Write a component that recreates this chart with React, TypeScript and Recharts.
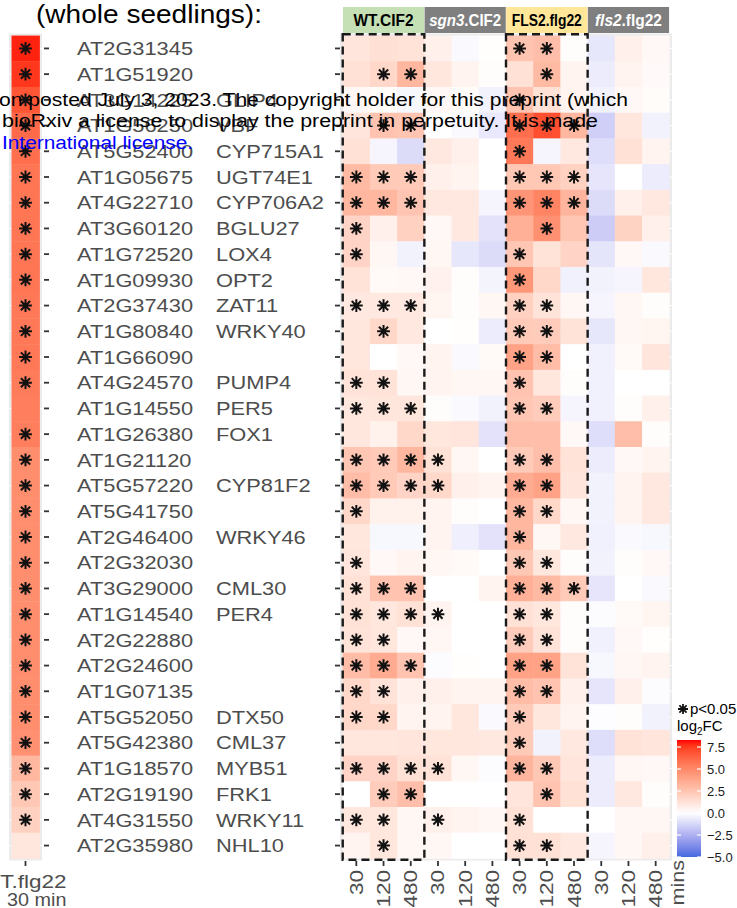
import { CartesianGrid, Scatter, ScatterChart, XAxis, YAxis } from "recharts"

const GENE_IDS = [
  "AT2G31345", "AT1G51920", "AT3G14225", "AT1G56250", "AT5G52400", "AT1G05675", "AT4G22710", "AT3G60120",
  "AT1G72520", "AT1G09930", "AT2G37430", "AT1G80840", "AT1G66090", "AT4G24570", "AT1G14550", "AT1G26380",
  "AT1G21120", "AT5G57220", "AT5G41750", "AT2G46400", "AT2G32030", "AT3G29000", "AT1G14540", "AT2G22880",
  "AT2G24600", "AT1G07135", "AT5G52050", "AT5G42380", "AT1G18570", "AT2G19190", "AT4G31550", "AT2G35980",
]
const GENE_NAMES = [
  "", "", "GLIP4", "VBF", "CYP715A1", "UGT74E1", "CYP706A2", "BGLU27",
  "LOX4", "OPT2", "ZAT11", "WRKY40", "", "PUMP4", "PER5", "FOX1",
  "", "CYP81F2", "", "WRKY46", "", "CML30", "PER4", "",
  "", "", "DTX50", "CML37", "MYB51", "FRK1", "WRKY11", "NHL10",
]
const TIMEPOINTS = ["30", "120", "480"]
const GROUP_LABELS = ["WT.CIF2", "sgn3.CIF2", "FLS2.flg22", "fls2.flg22"]
const BOXED_GROUPS = [0, 2]
const LEFT_LABEL = ["WT.flg22", "30 min"]

// reference column: WT.flg22 30 min
const WT_FLG22_30MIN = [
  8.0, 7.6, 6.8, 6.1, 6.0, 5.7, 5.7, 5.7, 5.7, 5.7, 5.6, 5.6, 5.6, 5.5, 5.4, 5.4,
  4.8, 4.8, 4.8, 4.8, 4.8, 4.8, 4.8, 4.8, 4.8, 4.8, 4.8, 4.7, 3.1, 2.4, 2.0, 1.05,
]
const WT_FLG22_SIG = [1, 1, 1, 1, 1, 1, 1, 1, 1, 1, 1, 1, 1, 1, 0, 1, 1, 1, 1, 1, 1, 1, 1, 1, 1, 1, 1, 1, 1, 1, 1, 0]

// log2FC at 30 / 120 / 480 min, one row per gene
const WT_CIF2 = [
  [1.15, 1.35, 1.25], [1.3, 1.7, 3.1], [0.3, 0.15, -0.25], [1.15, 2.6, 2.5],
  [1.3, -0.3, -1.1], [3.0, 2.3, 2.3], [3.1, 3.1, 2.5], [1.85, 0.65, 2.0],
  [1.85, 0.35, -0.4], [1.2, 0.25, 0.3], [1.0, 1.0, 1.0], [1.05, 1.7, 1.0],
  [1.05, 0.0, 0.3], [1.2, 1.2, 0.35], [1.05, 1.1, 1.1], [1.05, 0.6, 1.7],
  [2.45, 2.3, 3.1], [2.9, 2.3, 1.85], [1.7, 0.6, 0.6], [1.05, -0.25, -0.25],
  [1.15, 0.3, 0.5], [1.3, 2.6, 2.6], [1.3, 1.05, 1.3], [1.2, 1.05, 0.3],
  [2.9, 3.6, 2.6], [1.7, 1.2, 0.65], [1.7, 1.7, 0.5], [1.05, 1.05, 1.15],
  [1.85, 1.85, 1.3], [0.0, 2.2, 2.8], [1.05, 1.05, 0.35], [0.5, 1.05, 0.35],
]
const SGN3_CIF2 = [
  [0.65, -0.15, 0.05], [1.05, 0.5, 0.1], [0.3, 0.15, -0.4], [0.0, -0.15, -0.7],
  [1.0, 0.65, 0.0], [0.65, 0.5, 0.0], [1.0, 1.0, -0.3], [0.3, 1.0, -0.9],
  [0.35, -0.75, -1.1], [0.55, 0.1, -0.35], [0.45, 0.1, 0.35], [0.0, 0.05, -0.6],
  [0.5, -0.2, 0.25], [0.5, 0.35, 0.35], [0.1, -0.2, -0.4], [1.05, 1.15, -0.9],
  [1.3, 0.35, 0.0], [1.7, 0.65, 0.5], [0.5, 0.1, 0.0], [0.5, -0.5, -0.9],
  [0.35, 0.25, 0.0], [0.0, 0.0, 0.5], [0.5, 0.0, 0.0], [0.35, 0.0, 0.0],
  [-0.1, 0.05, 0.0], [0.65, 0.5, 0.5], [0.5, 1.05, -0.2], [1.05, 1.05, 1.0],
  [1.2, 0.35, -0.1], [0.0, 0.0, 0.0], [0.65, 0.5, 0.35], [0.35, 0.0, 0.0],
]
const FLS2_FLG22 = [
  [2.55, 2.8, 0.1], [1.3, 3.0, 0.5], [2.6, 1.3, 0.5], [6.0, 7.0, 3.1],
  [5.6, -0.3, 1.0], [2.4, 2.4, 2.0], [4.5, 5.2, 3.2], [3.4, 4.7, 2.45],
  [2.45, 1.25, 1.85], [4.45, 1.7, -0.45], [2.0, 1.2, 0.35], [2.3, 2.2, 1.2],
  [4.0, 2.9, 0.0], [2.6, 1.05, 0.1], [2.45, 2.2, -0.3], [2.8, 2.8, 0.3],
  [2.3, 2.8, 1.2], [3.6, 4.0, 1.15], [3.1, 1.7, 0.35], [3.1, 0.35, 1.0],
  [2.4, 1.05, 0.1], [3.4, 3.0, 2.3], [1.3, 1.05, 0.1], [2.2, 1.2, 0.1],
  [4.0, 4.0, 1.2], [2.9, 2.6, 0.65], [2.3, 1.05, 0.5], [2.3, -0.4, 1.0],
  [3.2, 2.4, 1.15], [1.15, 2.6, 1.3], [1.3, 0.0, 0.0], [1.3, 1.3, 1.0],
]
const FLS2_MUT_FLG22 = [
  [-0.75, 0.65, 0.3], [-0.6, 0.5, 0.2], [-0.4, 0.3, 0.15], [-1.5, 1.05, -0.4],
  [-1.05, 1.3, 0.5], [-0.8, 0.0, -0.6], [-1.1, 0.65, 1.0], [-1.6, 1.9, 0.65],
  [-0.85, 0.3, -0.2], [-0.4, -0.3, 1.05], [-0.3, 0.35, 0.1], [-0.75, 0.35, 0.4],
  [-0.45, 0.25, 1.15], [-0.45, 0.0, 0.0], [-0.45, 0.1, 0.65], [-1.05, 2.8, 0.1],
  [-0.6, 0.3, 0.5], [-0.4, 0.5, 1.0], [-0.4, 0.5, 1.0], [-0.45, -0.2, -0.25],
  [-0.4, 0.1, 0.3], [-0.8, 0.0, -0.2], [-0.1, 0.25, 0.4], [-0.45, 0.3, 0.05],
  [-0.25, 0.35, 0.5], [-0.8, 0.65, -0.1], [-0.05, 0.1, -0.4], [-1.05, 1.2, 1.15],
  [-0.6, 0.35, 0.3], [-0.6, 1.0, 0.1], [0.0, 0.35, 0.35], [-0.3, 0.35, 0.65],
]
// p<0.05 columns (0-11) per gene
const SIG_COLUMNS = [
  [6, 7], [1, 2, 7], [6], [1, 2, 6, 7, 8], [6], [0, 1, 2, 6, 7, 8], [0, 1, 2, 6, 7, 8], [0, 7],
  [0, 6], [6], [0, 1, 2, 6, 7], [1, 6, 7], [6, 7], [0, 1, 6], [0, 1, 2, 6, 7], [],
  [0, 1, 2, 3, 6, 7], [0, 1, 2, 3, 6, 7], [0, 6, 7], [6], [0, 6, 7], [0, 1, 2, 6, 7, 8], [0, 1, 2, 3, 6, 7], [0, 1, 6, 7],
  [0, 1, 2, 6, 7], [0, 1, 6, 7], [0, 1, 6], [6], [0, 1, 2, 3, 6, 7], [1, 2, 7], [0, 1, 3, 6], [1, 6, 7],
]
const LEGEND_BREAKS = [7.5, 5, 2.5, 0, -2.5, -5]

// ---- colour scale (white mid, Lab interpolation like ggplot) ----
const SCALE_MIN = -5
const SCALE_MAX = 8.3
const toLin = (c: number) => { c /= 255; return c <= 0.04045 ? c / 12.92 : ((c + 0.055) / 1.055) ** 2.4 }
const fromLin = (c: number) => {
  const v = c <= 0.0031308 ? 12.92 * c : 1.055 * c ** (1 / 2.4) - 0.055
  return Math.round(Math.max(0, Math.min(1, v)) * 255)
}
function rgbToLab(r: number, g: number, b: number) {
  const R = toLin(r), G = toLin(g), B = toLin(b)
  const X = (0.4124 * R + 0.3576 * G + 0.1805 * B) / 0.95047
  const Y = 0.2126 * R + 0.7152 * G + 0.0722 * B
  const Z = (0.0193 * R + 0.1192 * G + 0.9505 * B) / 1.08883
  const f = (t: number) => (t > 0.008856 ? Math.cbrt(t) : 7.787 * t + 16 / 116)
  return [116 * f(Y) - 16, 500 * (f(X) - f(Y)), 200 * (f(Y) - f(Z))]
}
function labToRgb(L: number, a: number, b: number) {
  const fy = (L + 16) / 116, fx = fy + a / 500, fz = fy - b / 200
  const inv = (t: number) => (t ** 3 > 0.008856 ? t ** 3 : (t - 16 / 116) / 7.787)
  const X = 0.95047 * inv(fx), Y = inv(fy), Z = 1.08883 * inv(fz)
  const r = fromLin(3.2406 * X - 1.5372 * Y - 0.4986 * Z)
  const g = fromLin(-0.9689 * X + 1.8758 * Y + 0.0415 * Z)
  const bb = fromLin(0.0557 * X - 0.204 * Y + 1.057 * Z)
  return `rgb(${r},${g},${bb})`
}
const WHITE = rgbToLab(255, 255, 255)
const HIGH = rgbToLab(255, 0, 0)
const LOW = rgbToLab(65, 105, 225)
function fillFor(v: number) {
  const end = v >= 0 ? HIGH : LOW
  const f = v >= 0 ? Math.min(v / SCALE_MAX, 1) : Math.min(v / SCALE_MIN, 1)
  return labToRgb(
    WHITE[0] + (end[0] - WHITE[0]) * f,
    WHITE[1] + (end[1] - WHITE[1]) * f,
    WHITE[2] + (end[2] - WHITE[2]) * f,
  )
}

// ---- layout ----
const FONT = "'Liberation Sans', Arial, sans-serif"
const PLOT_TOP = 33
const PLOT_BOTTOM = 861
const Y_DOMAIN: [number, number] = [-0.6, 31.6]
const ROW_H = (PLOT_BOTTOM - PLOT_TOP) / (Y_DOMAIN[1] - Y_DOMAIN[0])
const RIGHT_X_DOMAIN: [number, number] = [-0.6, 11.6]
const COL_W = 332 / (RIGHT_X_DOMAIN[1] - RIGHT_X_DOMAIN[0])
const LEFT_X_DOMAIN: [number, number] = [-0.59, 0.59]
const LEFT_W = 33 / (LEFT_X_DOMAIN[1] - LEFT_X_DOMAIN[0])
const STRIPS = [
  { fill: "#c5e0b4", color: "#000", width: 60 },
  { fill: "#7f7f7f", color: "#fff", width: 72 },
  { fill: "#ffe699", color: "#000", width: 70 },
  { fill: "#7f7f7f", color: "#fff", width: 67 },
]

const ROW_TICKS = GENE_IDS.map((_, i) => i)
const COL_TICKS = GROUP_LABELS.flatMap((_, g) => TIMEPOINTS.map((_, t) => g * 3 + t))
const STRIP_TICKS = GROUP_LABELS.map((_, g) => g * 3 + 1)

const leftCells = WT_FLG22_30MIN.map((v, r) => ({ x: 0, y: r, v, sig: WT_FLG22_SIG[r] === 1 }))
const rightCells = GENE_IDS.flatMap((_, r) =>
  [WT_CIF2, SGN3_CIF2, FLS2_FLG22, FLS2_MUT_FLG22].flatMap((grp, g) =>
    grp[r].map((v, t) => ({ x: g * 3 + t, y: r, v, sig: SIG_COLUMNS[r].includes(g * 3 + t) })),
  ),
)
// one point per outlined group, at the centre of its block
const boxPoints = BOXED_GROUPS.map((g) => ({ x: g * 3 + 1, y: (GENE_IDS.length - 1) / 2 }))

function Star({ cx, cy, r = 6.4, w = 2 }: { cx: number; cy: number; r?: number; w?: number }) {
  const d = r * 0.72
  return (
    <path
      d={`M${cx - r},${cy}H${cx + r}M${cx},${cy - r}V${cy + r}M${cx - d},${cy - d}L${cx + d},${cy + d}M${cx - d},${cy + d}L${cx + d},${cy - d}`}
      stroke="#111"
      strokeWidth={w}
      fill="none"
    />
  )
}

const cellShape = (w: number) => (props: any) => {
  const { cx, cy, payload } = props
  return (
    <g>
      <rect x={cx - w / 2} y={cy - ROW_H / 2} width={w + 0.4} height={ROW_H + 0.4} fill={fillFor(payload.v)} />
      {payload.sig && <Star cx={cx} cy={cy} />}
    </g>
  )
}

const boxShape = (props: any) => {
  const { cx, cy } = props
  const w = 3 * COL_W
  const h = (GENE_IDS.length + 0.1) * ROW_H
  return (
    <rect x={cx - w / 2} y={cy - h / 2} width={w} height={h} fill="none"
      stroke="#1a1a1a" strokeWidth={2.4} strokeDasharray="8 5" />
  )
}

function GeneTick(props: any) {
  const { x, y, payload } = props
  const i = payload.value
  return (
    <g>
      <line x1={x + 2} x2={x + 7} y1={y} y2={y} stroke="#333" strokeWidth={1.8} />
      <text transform={`translate(${x + 35},${y}) scale(1.18,1)`} dy="0.36em" fontSize={18.5} fill="#4d4d4d" fontFamily={FONT}>
        {GENE_IDS[i]}
      </text>
      <text transform={`translate(${x + 174},${y}) scale(1.18,1)`} dy="0.36em" fontSize={18.5} fill="#4d4d4d" fontFamily={FONT}>
        {GENE_NAMES[i]}
      </text>
    </g>
  )
}

function LeftXTick(props: any) {
  const { x } = props
  return (
    <g>
      <line x1={x} x2={x} y1={PLOT_BOTTOM} y2={PLOT_BOTTOM + 5} stroke="#333" strokeWidth={1.8} />
      {LEFT_LABEL.map((s, k) => (
        <text key={s} transform={`translate(${x + 41},${888 + k * 18}) scale(${k === 0 ? 1.25 : 1.1},1)`} textAnchor="end" fontSize={18} fill="#4d4d4d" fontFamily={FONT}>
          {s}
        </text>
      ))}
    </g>
  )
}

function RowTick(props: any) {
  const { x, y } = props
  return <line x1={x - 5} x2={x} y1={y} y2={y} stroke="#333" strokeWidth={1.8} />
}

function TimeTick(props: any) {
  const { x, payload } = props
  return (
    <g>
      <line x1={x} x2={x} y1={PLOT_BOTTOM} y2={PLOT_BOTTOM + 5} stroke="#333" strokeWidth={1.8} />
      <text transform={`translate(${x},${PLOT_BOTTOM + 9}) rotate(-90) scale(1.25,1)`} textAnchor="end" dy="0.36em" fontSize={18} fill="#4d4d4d" fontFamily={FONT}>
        {TIMEPOINTS[payload.value % 3]}
      </text>
    </g>
  )
}

function StripTick(props: any) {
  const { x, payload } = props
  const g = (payload.value - 1) / 3
  const s = STRIPS[g]
  const label = GROUP_LABELS[g]
  const dot = label.indexOf(".")
  const italic = label[0] === label[0].toLowerCase()
  return (
    <g>
      <rect x={x - 40.6} y={7} width={81.2} height={26} fill={s.fill} />
      <text x={x} y={26} textAnchor="middle" fontSize={17} fontWeight="bold" fill={s.color} fontFamily={FONT} textLength={s.width} lengthAdjust="spacingAndGlyphs">
        {italic ? (
          <>
            <tspan fontStyle="italic">{label.slice(0, dot)}</tspan>
            <tspan>{label.slice(dot)}</tspan>
          </>
        ) : (
          label
        )}
      </text>
    </g>
  )
}

const legendY = (v: number) => 857 - ((v - SCALE_MIN) * 117) / (SCALE_MAX - SCALE_MIN)
const GRADIENT_STOPS = Array.from({ length: 28 }, (_, k) => SCALE_MIN + (k * (SCALE_MAX - SCALE_MIN)) / 27)
const fmt = (v: number) => (v < 0 ? "\u2212" + Math.abs(v).toFixed(1) : v.toFixed(1))

export default function App() {
  return (
    <div style={{ position: "absolute", left: 0, top: 0, width: 737, height: 908, background: "#fff", overflow: "hidden", fontFamily: FONT }}>
      <div style={{ position: "absolute", left: 0, top: 0 }}>
        <ScatterChart width={340} height={908} margin={{ top: PLOT_TOP, right: 0, bottom: 0, left: 9 }}>
          <CartesianGrid fill="#ebebeb" stroke="#fff" vertical={false} />
          <XAxis type="number" dataKey="x" domain={LEFT_X_DOMAIN} ticks={[0]} height={47} allowDataOverflow
            axisLine={false} tickLine={false} tickSize={0} tickMargin={0} tick={LeftXTick} />
          <YAxis type="number" dataKey="y" orientation="right" width={298} domain={Y_DOMAIN} reversed allowDataOverflow
            ticks={ROW_TICKS} interval={0} axisLine={false} tickLine={false} tickSize={0} tickMargin={0} tick={GeneTick} />
          <Scatter data={leftCells} isAnimationActive={false} shape={cellShape(LEFT_W)} />
        </ScatterChart>
      </div>
      <div style={{ position: "absolute", left: 300, top: 0 }}>
        <ScatterChart width={437} height={908} margin={{ top: 0, right: 65, bottom: 0, left: 0 }}>
          <CartesianGrid fill="#ebebeb" stroke="#fff" vertical={false} xAxisId="b" />
          <XAxis xAxisId="strip" orientation="top" type="number" dataKey="x" domain={RIGHT_X_DOMAIN} ticks={STRIP_TICKS} interval={0}
            height={PLOT_TOP} allowDataOverflow axisLine={false} tickLine={false} tickSize={0} tickMargin={0} tick={StripTick} />
          <XAxis xAxisId="b" type="number" dataKey="x" domain={RIGHT_X_DOMAIN} ticks={COL_TICKS} interval={0}
            height={908 - PLOT_BOTTOM} allowDataOverflow axisLine={false} tickLine={false} tickSize={0} tickMargin={0} tick={TimeTick} />
          <YAxis type="number" dataKey="y" width={40} domain={Y_DOMAIN} reversed allowDataOverflow ticks={ROW_TICKS} interval={0}
            axisLine={false} tickLine={false} tickSize={0} tickMargin={0} tick={RowTick} />
          <Scatter xAxisId="b" data={rightCells} isAnimationActive={false} shape={cellShape(COL_W)} />
          <Scatter xAxisId="b" data={boxPoints} isAnimationActive={false} shape={boxShape} />
        </ScatterChart>
      </div>
      <svg width={737} height={908} style={{ position: "absolute", left: 0, top: 0, pointerEvents: "none" }}>
        <defs>
          <linearGradient id="fcbar" x1="0" y1="1" x2="0" y2="0">
            {GRADIENT_STOPS.map((v) => (
              <stop key={v} offset={(v - SCALE_MIN) / (SCALE_MAX - SCALE_MIN)} stopColor={fillFor(v)} />
            ))}
          </linearGradient>
        </defs>
        <text x={36} y={23} fontSize={26.5} fill="#000" fontFamily={FONT} textLength={226} lengthAdjust="spacingAndGlyphs">
          (whole seedlings):
        </text>
        {/* legend */}
        <Star cx={683} cy={709} r={5} w={1.8} />
        <text x={690} y={714} fontSize={15} fill="#000" fontFamily={FONT}>p&lt;0.05</text>
        <text x={677} y={731} fontSize={15} fill="#000" fontFamily={FONT}>
          log<tspan fontSize={10} dy={4}>2</tspan><tspan dy={-4}>FC</tspan>
        </text>
        <rect x={677} y={740} width={24} height={117} fill="url(#fcbar)" />
        {LEGEND_BREAKS.map((v) => (
          <g key={v}>
            <line x1={677} x2={681} y1={legendY(v)} y2={legendY(v)} stroke="#fff" strokeWidth={1.2} />
            <line x1={697} x2={701} y1={legendY(v)} y2={legendY(v)} stroke="#fff" strokeWidth={1.2} />
            <text x={707} y={legendY(v)} dy="0.36em" fontSize={13} fill="#1a1a1a" fontFamily={FONT}>{fmt(v)}</text>
          </g>
        ))}
        <text transform={`translate(678,${PLOT_BOTTOM - 1}) rotate(-90) scale(1.2,1)`} textAnchor="end" dy="0.36em" fontSize={18} fill="#4d4d4d" fontFamily={FONT}>
          mins
        </text>
        {/* preprint watermark */}
        <text x={-1} y={106} fontSize={18} fill="#000" fontFamily={FONT} textLength={629} lengthAdjust="spacingAndGlyphs">
          on posted July 3, 2023. The copyright holder for this preprint (which
        </text>
        <text x={2} y={127} fontSize={18} fill="#000" fontFamily={FONT} textLength={596} lengthAdjust="spacingAndGlyphs">
          bioRxiv a license to display the preprint in perpetuity. It is made
        </text>
        <text x={2} y={149} fontSize={18} fill="#0000ff" fontFamily={FONT} textLength={191} lengthAdjust="spacingAndGlyphs">
          International license.
        </text>
      </svg>
    </div>
  )
}
